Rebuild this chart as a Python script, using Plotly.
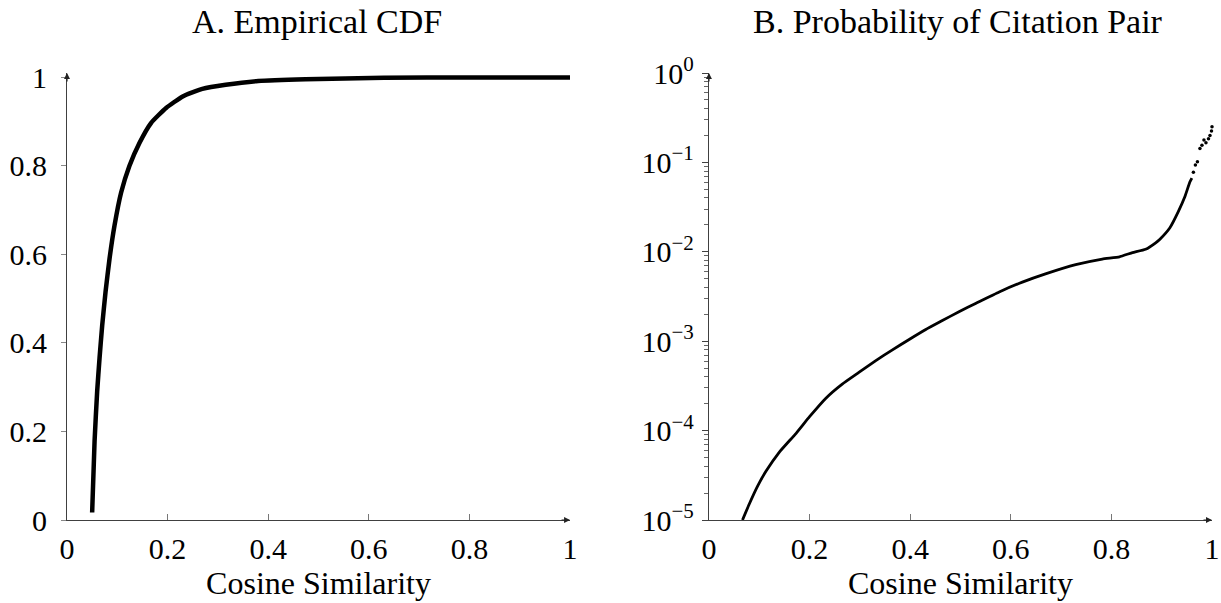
import plotly.graph_objects as go
from plotly.subplots import make_subplots

# Panel A: empirical CDF of cosine similarity
cdf_x = [0.050, 0.0548, 0.060, 0.0647, 0.070, 0.0766, 0.0845, 0.0944, 0.1076, 0.124,
         0.144, 0.167, 0.197, 0.230, 0.269, 0.3155, 0.380, 0.474, 0.63, 0.8, 1.0]
cdf_y = [0.017, 0.178, 0.291, 0.366, 0.44, 0.515, 0.590, 0.665, 0.740, 0.80,
         0.852, 0.897, 0.931, 0.957, 0.974, 0.9835, 0.992, 0.996, 0.999, 1.0, 1.0]

# Panel B: probability of a citation pair (log scale)
prob_x = [0.0667, 0.080, 0.0967, 0.1133, 0.140, 0.1733, 0.2, 0.232, 0.265, 0.298,
          0.331, 0.364, 0.398, 0.431, 0.464, 0.497, 0.530, 0.577, 0.623, 0.669,
          0.729, 0.782, 0.816, 0.842, 0.868, 0.888, 0.896, 0.916, 0.933, 0.946,
          0.956, 0.960]
prob_y = [1.0e-5, 1.50e-5, 2.39e-5, 3.50e-5, 5.75e-5, 9.33e-5, 1.43e-4, 2.29e-4, 3.31e-4, 4.47e-4,
          6.03e-4, 7.96e-4, 1.045e-3, 1.35e-3, 1.70e-3, 2.14e-3, 2.64e-3, 3.56e-3, 4.58e-3, 5.66e-3,
          7.18e-3, 8.30e-3, 8.79e-3, 9.79e-3, 1.069e-2, 1.262e-2, 1.377e-2, 1.849e-2, 2.818e-2, 4.13e-2,
          6.04e-2, 6.68e-2]

# scattered points in the upper tail
tail_x = [0.963, 0.967, 0.971, 0.976, 0.980, 0.984, 0.988, 0.993, 0.996, 0.999, 1.0]
tail_y = [0.0778, 0.0935, 0.102, 0.143, 0.156, 0.178, 0.166, 0.184, 0.200, 0.224, 0.250]

x_ticks = [0, 0.2, 0.4, 0.6, 0.8, 1]
x_labels = ["0", "0.2", "0.4", "0.6", "0.8", "1"]
cdf_ticks = [0, 0.2, 0.4, 0.6, 0.8, 1]
cdf_labels = ["0", "0.2", "0.4", "0.6", "0.8", "1"]
log_ticks = [1e-5, 1e-4, 1e-3, 1e-2, 1e-1, 1]
log_labels = ["10<sup>−5</sup>", "10<sup>−4</sup>", "10<sup>−3</sup>",
              "10<sup>−2</sup>", "10<sup>−1</sup>", "10<sup>0</sup>"]

FONT = "Liberation Serif"
AX = "#404040"

fig = make_subplots(rows=1, cols=2, horizontal_spacing=0.1213)
fig.add_trace(go.Scatter(x=cdf_x, y=cdf_y, mode="lines",
                         line=dict(color="black", width=4.5, shape="spline", smoothing=0.5)),
              row=1, col=1)
fig.add_trace(go.Scatter(x=prob_x, y=prob_y, mode="lines",
                         line=dict(color="black", width=2.8, shape="spline", smoothing=0.4)),
              row=1, col=2)
fig.add_trace(go.Scatter(x=tail_x, y=tail_y, mode="markers",
                         marker=dict(color="black", size=3.5), cliponaxis=False),
              row=1, col=2)

common = dict(showgrid=False, zeroline=False, showline=True, linecolor=AX, linewidth=1.2,
              automargin=False, tickfont=dict(family=FONT, size=30, color="black"))
fig.update_xaxes(range=[0, 1], tickvals=x_ticks, ticktext=x_labels, ticks="inside",
                 ticklen=6, tickcolor="#777", ticklabelstandoff=2, **common)
fig.update_xaxes(title=dict(text="Cosine Similarity", font=dict(family=FONT, size=32, color="black"),
                            standoff=2))
fig.update_yaxes(range=[0, 1.01], tickvals=cdf_ticks, ticktext=cdf_labels, ticks="outside",
                 ticklen=5, tickcolor="#888", ticklabelstandoff=8, row=1, col=1, **common)
fig.update_yaxes(type="log", range=[-5, 0], tickvals=log_ticks, ticktext=log_labels,
                 ticks="outside", ticklen=6, tickcolor=AX, ticklabelstandoff=2,
                 minor=dict(ticks="outside", ticklen=4, tickcolor="#666", dtick="D1"),
                 row=1, col=2, **common)

# axis arrowheads
arrows = [("x", "y", 1, 0, 10, 0), ("x", "y", 0, 1.01, 0, 10),
          ("x2", "y2", 1, -5, 10, 0), ("x2", "y2", 0, 0, 0, 10)]
for xr, yr, ax_x, ax_y, dx, dy in arrows:
    fig.add_annotation(x=ax_x, y=ax_y, xref=xr, yref=yr, ax=-dx, ay=dy, text="",
                       showarrow=True, arrowhead=2, arrowsize=1, arrowwidth=1.2, arrowcolor="#222")

for txt, xc in [("A. Empirical CDF", 0.218), ("B. Probability of Citation Pair", 0.7786)]:
    fig.add_annotation(text=txt, x=xc, y=1.161, xref="paper", yref="paper", showarrow=False,
                       xanchor="center", yanchor="top", font=dict(family=FONT, size=34, color="black"))

fig.update_layout(width=1221, height=603, showlegend=False, plot_bgcolor="white",
                  paper_bgcolor="white", margin=dict(l=67, r=9, t=73, b=83))
# drop the default page margin so the figure sits at the window's corner
fig.write_html("out.html", config={"displayModeBar": False},
               post_script="document.body.style.margin='0';")
